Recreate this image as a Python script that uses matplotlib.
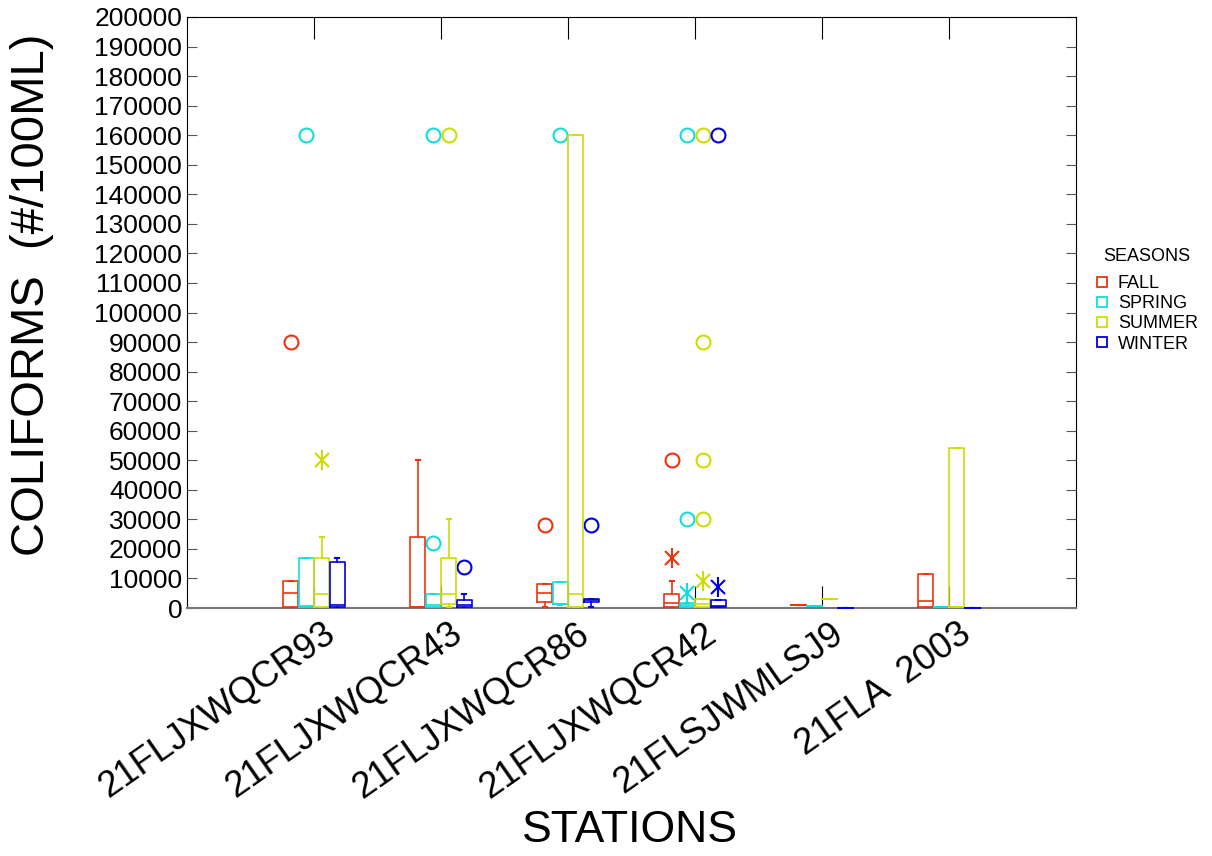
import matplotlib
matplotlib.use("Agg")
import matplotlib.pyplot as plt
from matplotlib.lines import Line2D
from matplotlib.transforms import ScaledTranslation

plt.rcParams["font.family"] = ["Liberation Sans", "DejaVu Sans"]

stations = ["21FLJXWQCR93", "21FLJXWQCR43", "21FLJXWQCR86",
            "21FLJXWQCR42", "21FLSJWMLSJ9", "21FLA  2003"]
seasons = ["FALL", "SPRING", "SUMMER", "WINTER"]
colors = ["#ee3311", "#11dddd", "#ccdd00", "#0000dd"]

# per season, per station: (whislo, q1, med, q3, whishi)
fall_stats = [(0, 300, 5000, 9000, 9000), (0, 300, 500, 24000, 50000),
              (500, 2000, 5000, 8000, 8000), (0, 300, 1700, 4800, 9000),
              (1000, 1000, 1000, 1000, 1000), (0, 300, 2300, 11500, 11500)]
spring_stats = [(0, 300, 700, 17000, 17000), (0, 300, 1000, 4800, 4800),
                (1000, 1300, 1500, 8800, 8800), (0, 300, 1000, 1700, 1700),
                (700, 700, 700, 700, 700), (500, 500, 500, 500, 500)]
summer_stats = [(0, 300, 4800, 17000, 24000), (300, 1300, 4800, 17000, 30000),
                (0, 300, 4800, 160000, 160000), (0, 300, 1300, 3000, 3000),
                (3000, 3000, 3000, 3000, 3000), (0, 200, 300, 54000, 54000)]
winter_stats = [(0, 300, 1000, 15600, 17000), (0, 300, 1000, 2700, 4800),
                (500, 2000, 2600, 3000, 3000), (0, 300, 800, 2700, 2700),
                (0, 0, 0, 0, 0), (0, 0, 0, 0, 0)]

# far outliers (circles) and near outliers (asterisks)
fall_far = [[90000], [], [28000], [50000], [], []]
fall_near = [[], [], [], [17000], [], []]
spring_far = [[160000], [22000, 160000], [160000], [30000, 160000], [], []]
spring_near = [[], [], [], [5000], [], []]
summer_far = [[], [160000], [], [30000, 50000, 90000, 160000], [], []]
summer_near = [[50000], [], [], [9000], [], []]
winter_far = [[], [14000], [28000], [160000], [], []]
winter_near = [[], [], [], [7000], [], []]

all_stats = [fall_stats, spring_stats, summer_stats, winter_stats]
all_far = [fall_far, spring_far, summer_far, winter_far]
all_near = [fall_near, spring_near, summer_near, winter_near]

fig = plt.figure(figsize=(12.12, 8.56), dpi=100)
ax = fig.add_axes([187 / 1212, 1 - 608 / 856, (1076 - 187) / 1212, (608 - 17) / 856])

w = 0.122
offsets = [-1.5 * w, -0.5 * w, 0.5 * w, 1.5 * w]

for k in range(4):
    col = colors[k]
    bxstats = []
    for i, s in enumerate(all_stats[k]):
        bxstats.append(dict(whislo=s[0], q1=s[1], med=s[2], q3=s[3], whishi=s[4], fliers=[]))
    pos = [i + 1 + offsets[k] for i in range(len(stations))]
    ax.bxp(bxstats, positions=pos, widths=w * 0.98, showfliers=False,
           capwidths=0.035, manage_ticks=False,
           boxprops=dict(color=col, lw=1.2, clip_on=False, zorder=3),
           medianprops=dict(color=col, lw=1.2, clip_on=False, zorder=3),
           whiskerprops=dict(color=col, lw=1.2, zorder=3),
           capprops=dict(color=col, lw=1.5, zorder=3))
    for i in range(len(stations)):
        far = all_far[k][i]
        near = all_near[k][i]
        if far:
            ax.plot([pos[i]] * len(far), far, "o", mfc="none", mec=col, ms=10, mew=1.5)
        if near:
            ax.plot([pos[i]] * len(near), near, "x", color=col, ms=10, mew=1.5)
            ax.plot([pos[i]] * len(near), near, "|", color=col, ms=14, mew=1.5)

ax.set_xlim(0, 7)
ax.set_ylim(0, 200000)
ax.set_yticks(range(0, 200001, 10000))
ax.set_yticklabels([str(v) for v in range(0, 200001, 10000)], fontsize=19)
ax.tick_params(axis="y", direction="in", length=7, color="#555555", right=True)

ax.set_xticks(range(1, 7))
ax.set_xticklabels(stations, fontsize=26, rotation=35, ha="right",
                   rotation_mode="anchor")
ax.tick_params(axis="x", direction="in", length=16, top=True, color="black", pad=6)
shift = ScaledTranslation(8 / 100, 0, fig.dpi_scale_trans)
for lab in ax.get_xticklabels():
    lab.set_transform(lab.get_transform() + shift)
ax.spines["bottom"].set_color("#777777")
ax.spines["bottom"].set_linewidth(1.5)

fig.text(32 / 1212, 1 - 295 / 856, "COLIFORMS  (#/100ML)", rotation=90,
         fontsize=34, ha="center", va="center")
fig.text(630 / 1212, 1 - 830 / 856, "STATIONS", fontsize=32, ha="center", va="center")

handles = [Line2D([], [], marker="s", ls="none", mfc="none", mec=c, ms=7, mew=1.3)
           for c in colors]
leg = fig.legend(handles, seasons, title="SEASONS", loc="upper left",
                 bbox_to_anchor=(1079 / 1212, 1 - 232 / 856), frameon=False,
                 fontsize=13, title_fontsize=13, handlelength=0.8,
                 handletextpad=0.45, labelspacing=0.18)
leg._legend_box.sep = 7

fig.savefig("out.png", dpi=100)
